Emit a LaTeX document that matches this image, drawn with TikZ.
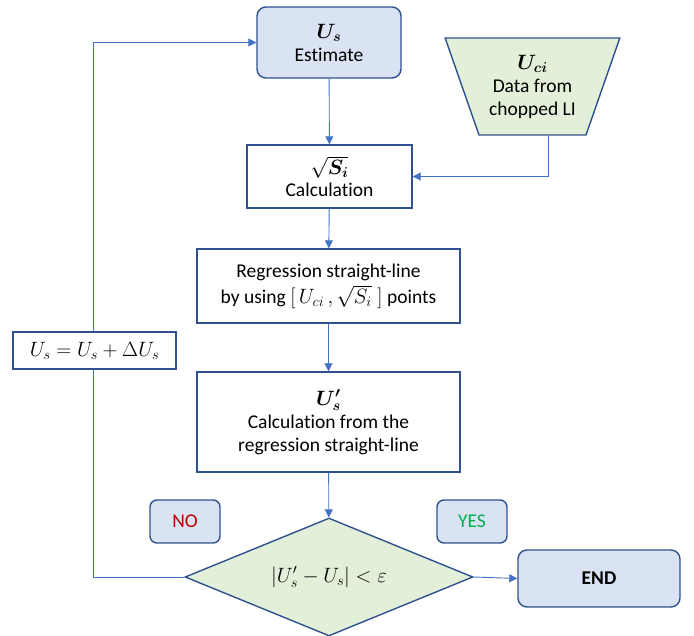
\documentclass[tikz,border=0pt]{standalone}
\usepackage{fontspec}
\setmainfont{Carlito}[Ligatures=NoCommon]
\usepackage{amsmath,bm}
\usetikzlibrary{shapes.geometric,arrows.meta,calc}
\definecolor{lineblue}{HTML}{4472C4}
\definecolor{borderblue}{HTML}{2F528F}
\definecolor{fillblue}{HTML}{DAE3F3}
\definecolor{fillgreen}{HTML}{E2F0D9}
\definecolor{nored}{HTML}{C00000}
\definecolor{yesgreen}{HTML}{00B050}
\begin{document}
\begin{tikzpicture}[x=1pt,y=-1pt,
  every node/.style={font=\fontsize{19.5}{23}\selectfont, align=center, inner sep=0pt},
  plainbox/.style={draw=borderblue, line width=1.4pt, fill=white},
  roundbox/.style={draw=borderblue, line width=1.4pt, fill=fillblue, rounded corners=9pt},
  greenshape/.style={draw=borderblue, line width=1.4pt, fill=fillgreen},
  conn/.style={draw=lineblue, line width=0.9pt},
  arr/.style={conn, -{Triangle[length=8pt,width=8pt]}}]
\useasboundingbox (0,0) rectangle (694,636);
% nodes
\node[roundbox, minimum width=144, minimum height=71] (est) at (329,42.5) {$\bm{U_s}$\\Estimate};
\node[greenshape, trapezium, trapezium stretches=true, shape border rotate=180,
      trapezium left angle=66.6, trapezium right angle=66.6,
      minimum width=175, minimum height=97] (data) at (532.5,86.5) {$\bm{U_{ci}}$\\Data from\\chopped LI};
\node[plainbox, minimum width=165, minimum height=63] (calc) at (329.5,176.5) {$\sqrt{\bm{S_i}}$\\[-1pt]Calculation};
\node[plainbox, minimum width=263, minimum height=74] (reg) at (328.5,286) {Regression straight-line\\[3pt]by using $[\,U_{ci}\,,\smash{\sqrt{S_i}}\;]$ points};
\node[plainbox, minimum width=263, minimum height=100] (usp) at (328.5,422) {$\bm{U_s'}$\\Calculation from the\\regression straight-line};
\node[greenshape, diamond, aspect=2.44, minimum width=288, minimum height=118] (dia) at (329,577) {$|U_s' - U_s| < \varepsilon$};
\node[roundbox, minimum width=162, minimum height=57] (end) at (599,578.5) {\textbf{END}};
\node[roundbox, rounded corners=7pt, minimum width=70, minimum height=43, text=nored] (no) at (185,521.5) {NO};
\node[roundbox, rounded corners=7pt, minimum width=70, minimum height=43, text=yesgreen] (yes) at (472,521.5) {YES};
\coordinate (loop) at (93,300);
% connectors
\draw[arr] (est) -- (calc);
\draw[arr] (calc) -- (reg);
\draw[arr] (reg) -- (usp);
\draw[arr] (usp) -- (dia);
\draw[arr] (dia.east) -- (end.west);
\draw[arr] ([xshift=16pt]data.south) |- (calc.east);
\draw[arr] (dia.west) -- (loop |- dia.west) -- (loop |- est.west) -- (est.west);
% update box on top of loop line
\node[plainbox, minimum width=163, minimum height=37, font=\fontsize{21}{24}\selectfont] (upd) at (94.5,350.5) {$U_s = U_s + \Delta U_s$};
\end{tikzpicture}
\end{document}
